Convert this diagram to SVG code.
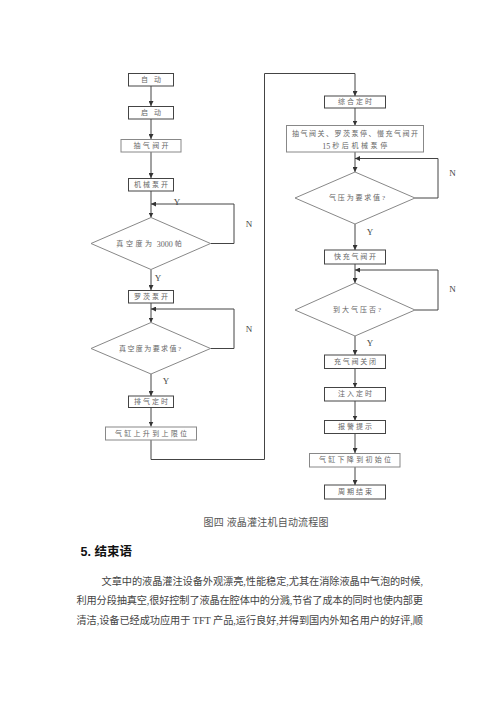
<svg xmlns="http://www.w3.org/2000/svg" width="500" height="707" viewBox="0 0 500 707">
<defs>
<marker id="ah" viewBox="0 0 8 8" refX="8" refY="4" markerWidth="5" markerHeight="5" orient="auto" markerUnits="userSpaceOnUse">
<path d="M0,0 L8,4 L0,8 Z" fill="#333"/>
</marker>
<style>
.b{fill:#fff;stroke:#444;stroke-width:1}
.bl{fill:#fff;stroke:#888;stroke-width:1}
.t{font-family:"Liberation Serif","Noto Sans CJK SC",serif;font-size:7px;fill:#666;text-anchor:middle;dominant-baseline:central}
.lb{font-family:"Liberation Serif","Noto Sans CJK SC",serif;font-size:9px;fill:#444;text-anchor:middle;dominant-baseline:central}
.c{fill:none;stroke:#444;stroke-width:1}
.p{font-family:"Liberation Serif","Noto Sans CJK SC",serif;font-size:10.2px;fill:#444}
.ls{letter-spacing:2.6px}
.dg{font-size:8px}
</style>
</defs>
<rect width="500" height="707" fill="#fff"/>
<g id="connectors" class="c">
<line x1="151" y1="86" x2="151" y2="106" marker-end="url(#ah)"/>
<line x1="151" y1="119" x2="151" y2="139" marker-end="url(#ah)"/>
<line x1="151" y1="152" x2="151" y2="178" marker-end="url(#ah)"/>
<line x1="151" y1="191" x2="151" y2="217.5" marker-end="url(#ah)"/>
<polyline points="210.5,243.5 234,243.5 234,204 151,204" marker-end="url(#ah)"/>
<line x1="151" y1="269.5" x2="151" y2="290" marker-end="url(#ah)"/>
<line x1="151" y1="303" x2="151" y2="322.5" marker-end="url(#ah)"/>
<polyline points="210.5,348.5 234,348.5 234,309 151,309" marker-end="url(#ah)"/>
<line x1="151" y1="374" x2="151" y2="396" marker-end="url(#ah)"/>
<line x1="151" y1="407.5" x2="151" y2="426.5" marker-end="url(#ah)"/>
<polyline points="151,440 151,459.5 264.5,459.5 264.5,73.5 355,73.5 355,96" marker-end="url(#ah)"/>
<line x1="355" y1="108" x2="355" y2="125.5" marker-end="url(#ah)"/>
<line x1="355" y1="152" x2="355" y2="172" marker-end="url(#ah)"/>
<polyline points="415,198 438,198 438,158.5 355,158.5" marker-end="url(#ah)"/>
<line x1="355" y1="224" x2="355" y2="250" marker-end="url(#ah)"/>
<line x1="355" y1="264" x2="355" y2="283" marker-end="url(#ah)"/>
<polyline points="415,310 438,310 438,270 355,270" marker-end="url(#ah)"/>
<line x1="355" y1="336" x2="355" y2="355" marker-end="url(#ah)"/>
<line x1="355" y1="368.5" x2="355" y2="387.5" marker-end="url(#ah)"/>
<line x1="355" y1="401" x2="355" y2="420.5" marker-end="url(#ah)"/>
<line x1="355" y1="433.5" x2="355" y2="453" marker-end="url(#ah)"/>
<line x1="355" y1="467" x2="355" y2="485" marker-end="url(#ah)"/>
</g>
<g id="labels">
<text class="lb" x="177" y="202">Y</text>
<text class="lb" x="249" y="224">N</text>
<text class="lb" x="158" y="278">Y</text>
<text class="lb" x="249" y="329">N</text>
<text class="lb" x="166" y="381">Y</text>
<text class="lb" x="452.5" y="173">N</text>
<text class="lb" x="370" y="232">Y</text>
<text class="lb" x="452.5" y="289">N</text>
<text class="lb" x="370" y="343">Y</text>
</g>
<g id="n1"><rect class="b" x="128.5" y="73.5" width="45" height="12.5"/><text class="t" x="151" y="80" textLength="20">自动</text></g>
<g id="n2"><rect class="b" x="128.5" y="106.5" width="45" height="12.5"/><text class="t" x="151" y="113" textLength="20">启动</text></g>
<g id="n3"><rect class="bl" x="121" y="139.5" width="60" height="12.5"/><text class="t" x="151" y="146" textLength="35">抽气阀开</text></g>
<g id="n4"><rect class="b" x="128.5" y="178.5" width="45" height="12.5"/><text class="t" x="151" y="185" textLength="34">机械泵开</text></g>
<g id="d1"><polygon class="bl" points="151,217.5 210.5,243.5 151,269.5 91,243.5"/><text class="t" x="149" y="243.5"><tspan class="ls">真空度为</tspan><tspan class="dg">&#160;3000&#160;</tspan><tspan>帕</tspan></text></g>
<g id="n5"><rect class="b" x="128.5" y="290.5" width="45" height="12.5"/><text class="t" x="151" y="297" textLength="34">罗茨泵开</text></g>
<g id="d2"><polygon class="bl" points="151,322.5 210.5,348.5 151,374 91,348.5"/><text class="t" x="150" y="348.5" textLength="62">真空度为要求值?</text></g>
<g id="n6"><rect class="b" x="128.5" y="396" width="45" height="11.5"/><text class="t" x="151" y="402" textLength="34">排气定时</text></g>
<g id="n7"><rect class="bl" x="105.5" y="427" width="91" height="13"/><text class="t" x="151" y="433.5" textLength="72">气缸上升到上限位</text></g>
<g id="n8"><rect class="b" x="324.5" y="96" width="61" height="12"/><text class="t" x="355" y="102" textLength="34">综合定时</text></g>
<g id="n9"><rect class="bl" x="286.5" y="125.5" width="137" height="26.5"/><text class="t" x="355" y="134" textLength="126">抽气阀关、罗茨泵停、慢充气阀开</text><text class="t" x="356" y="146"><tspan class="dg">15&#160;</tspan><tspan class="ls">秒后机械泵停</tspan></text></g>
<g id="d3"><polygon class="bl" points="355,172 415,198 355,224 295,198"/><text class="t" x="357" y="198" textLength="56">气压为要求值?</text></g>
<g id="n10"><rect class="b" x="324.5" y="250" width="61" height="14"/><text class="t" x="355" y="257" textLength="42">快充气阀开</text></g>
<g id="d4"><polygon class="bl" points="355,283 415,310 355,336 295,310"/><text class="t" x="357" y="310" textLength="48">到大气压否?</text></g>
<g id="n11"><rect class="b" x="324.5" y="355" width="61" height="13.5"/><text class="t" x="355" y="361.5" textLength="42">充气阀关闭</text></g>
<g id="n12"><rect class="b" x="324.5" y="387.5" width="61" height="13.5"/><text class="t" x="355" y="394" textLength="34">注入定时</text></g>
<g id="n13"><rect class="b" x="324.5" y="420.5" width="61" height="13"/><text class="t" x="355" y="427" textLength="34">报警提示</text></g>
<g id="n14"><rect class="bl" x="309.5" y="453.5" width="90.5" height="13.5"/><text class="t" x="355" y="460" textLength="72">气缸下降到初始位</text></g>
<g id="n15"><rect class="b" x="324.5" y="485" width="61" height="14"/><text class="t" x="355" y="492" textLength="34">周期结束</text></g>
<g id="text">
<text x="266" y="526" text-anchor="middle" font-family="Liberation Serif, Noto Sans CJK SC, serif" font-size="10" fill="#555" textLength="125">图四 液晶灌注机自动流程图</text>
<text x="80.5" y="556" font-family="Liberation Sans, Noto Sans CJK SC, sans-serif" font-size="12.5" font-weight="bold" fill="#111">5. 结束语</text>
<text class="p" x="101.5" y="584.5" textLength="321.5">文章中的液晶灌注设备外观漂亮,性能稳定,尤其在消除液晶中气泡的时候,</text>
<text class="p" x="76.5" y="604" textLength="346.5">利用分段抽真空,很好控制了液晶在腔体中的分溅,节省了成本的同时也使内部更</text>
<text class="p" x="76.5" y="624" textLength="346.5">清洁,设备已经成功应用于 TFT 产品,运行良好,并得到国内外知名用户的好评,顺</text>
</g>
</svg>
